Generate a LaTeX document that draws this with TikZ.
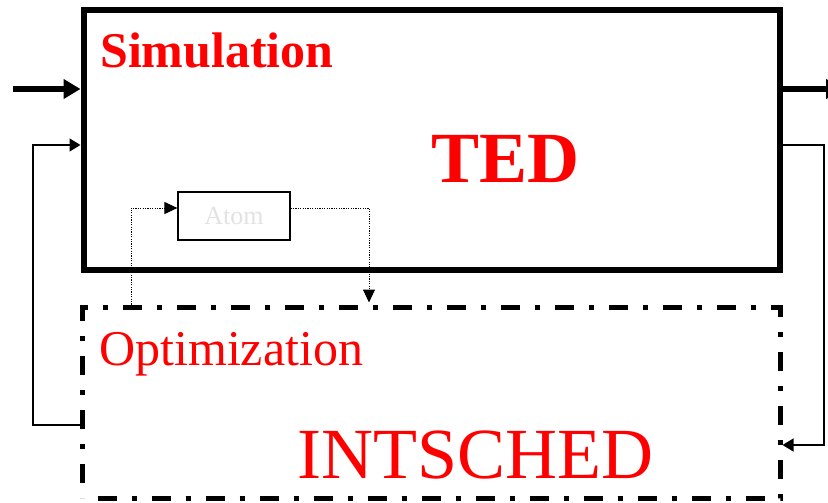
\documentclass[tikz,border=0pt]{standalone}
\usepackage{fontspec}
\setmainfont{Liberation Serif}
\usetikzlibrary{arrows.meta}
\definecolor{labelred}{RGB}{255,0,0}
\definecolor{faint}{RGB}{226,226,226}
\begin{document}
\begin{tikzpicture}[x=1pt,y=-1pt,
  block/.style={draw, rectangle, inner sep=0pt},
  caption/.style={anchor=base west, inner sep=0pt, text=labelred},
  mainflow/.style={line width=6pt, -{Triangle[length=17pt,width=19pt]}},
  feedback/.style={line width=1.3pt, -{Triangle[length=11pt,width=13pt]}},
  probe/.style={line width=1pt, dash pattern=on 1.2pt off 1.2pt,
                -{Triangle[length=13pt,width=12pt]}}]
\useasboundingbox (0,0) rectangle (828,503);

% simulation block and optimisation block
\node[block, line width=6pt, minimum width=696.5, minimum height=260]
  (sim) at (431.75,140) {};
\node[block, line width=5pt, minimum width=697.5, minimum height=191,
      dash pattern=on 19pt off 15pt on 5pt off 15pt, dash phase=39pt]
  (opt) at (431.25,402.5) {};
\node[block, line width=1.2pt, minimum width=112, minimum height=48,
      text=faint, font=\fontsize{26}{30}\selectfont]
  (atom) at (234,216) {Atom};

% captions
\node[caption, font=\bfseries\fontsize{50}{60}\selectfont] (simlabel) at (100,67) {Simulation};
\node[caption, font=\bfseries\fontsize{72}{86}\selectfont] (tedlabel) at (431,182) {TED};
\node[caption, font=\fontsize{50}{60}\selectfont] (optlabel) at (99,365) {Optimization};
\node[caption, font=\fontsize{72}{86}\selectfont] (intlabel) at (297,478) {INTSCHED};

% main input and output
\coordinate (inlet) at (13,89);
\coordinate (outlet) at (843,89);
\draw[mainflow] (inlet) -- (inlet -| sim.west);
\draw[mainflow] (sim.east |- outlet) -- (outlet);

% feedback loops
\coordinate (lb) at (33,425);
\coordinate (lt) at (33,145);
\draw[feedback] (opt.west |- lb) -- (lb) -- (lt) -- (lt -| sim.west);
\coordinate (rt) at (824,145);
\coordinate (rb) at (824,445);
\draw[feedback] (sim.east |- rt) -- (rt) -- (rb) -- (rb -| opt.east);

% dotted links through the atom
\coordinate (dl) at (131,208);
\coordinate (dr) at (369,208);
\draw[probe] (dl |- opt.north) -- (dl) -- (atom.west |- dl);
\draw[probe] (atom.east |- dr) -- (dr) -- ([yshift=2pt]dr |- opt.north);
\end{tikzpicture}
\end{document}
